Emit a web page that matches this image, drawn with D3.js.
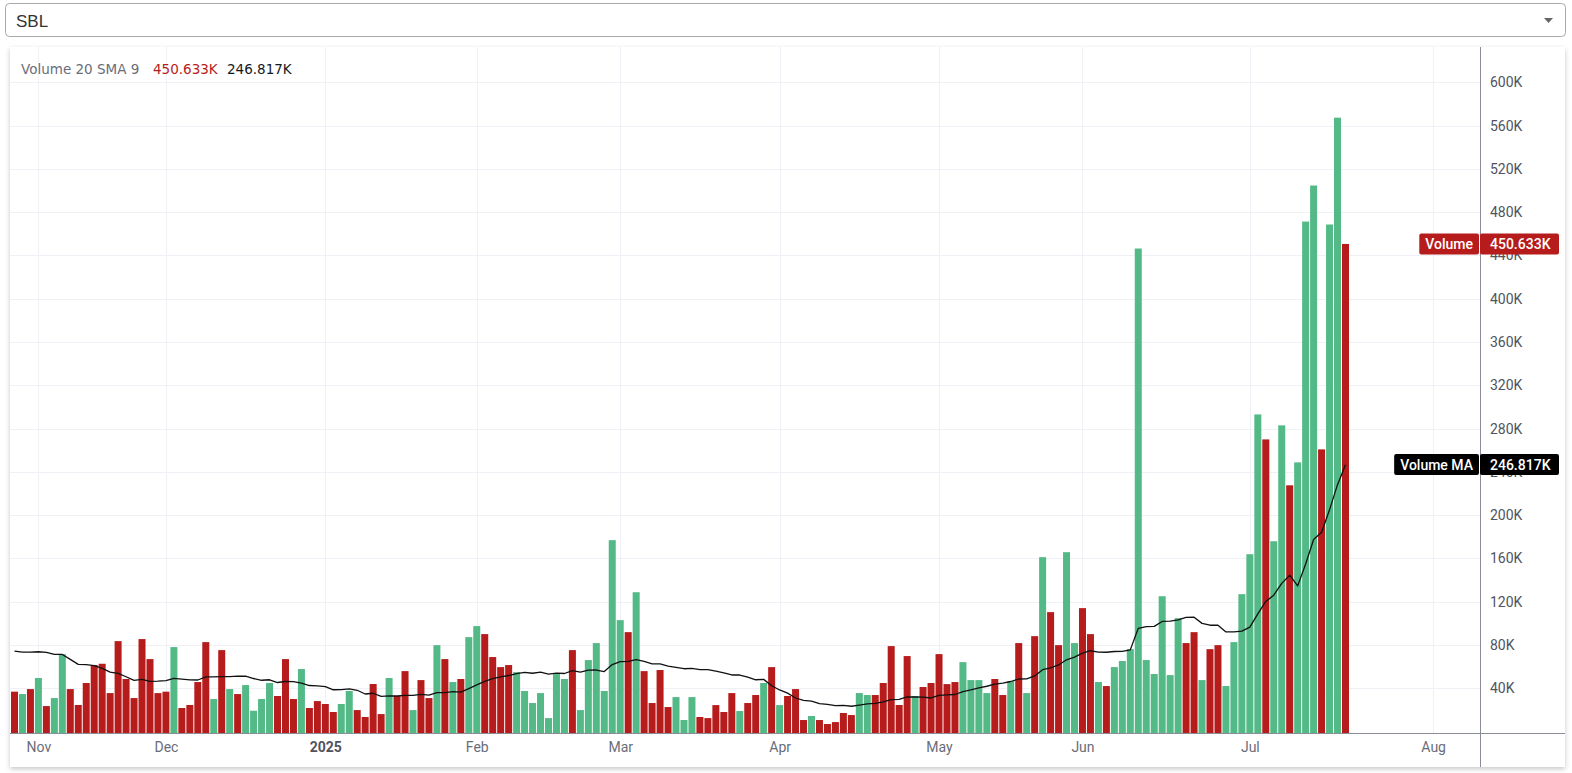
<!DOCTYPE html>
<html><head><meta charset="utf-8">
<script src="https://cdn.jsdelivr.net/npm/d3@7"></script>
<style>
html,body{margin:0;padding:0;background:#fff;overflow:hidden}
svg{display:block}
</style></head><body>
<svg id="c" width="1572" height="773"></svg>
<script>
// ---- data (volumes in thousands) ----
const volumeK = [
 36.9,34.7,39.3,49.5,23.6,31.0,71.6,39.3,24.6,44.9,61.5,62.7,35.6,83.6,48.6,31.0,85.5,67.0,35.6,36.9,78.1,21.8,24.6,45.8,82.7,30.1,75.3,39.3,34.7,43.0,19.3,30.1,44.9,
 32.9,67.0,30.1,57.8,21.8,28.2,25.5,18.1,25.5,37.5,19.9,13.5,44.0,16.2,49.5,32.9,55.9,19.9,47.6,31.0,79.9,67.0,45.8,48.6,87.3,97.5,90.1,68.9,59.6,61.5,55.0,37.5,26.4,
 35.6,12.5,53.2,48.6,75.3,19.9,66.1,81.8,37.5,176.9,103.0,91.9,128.8,55.9,26.4,56.9,22.7,31.9,10.7,31.9,13.5,12.5,24.5,18.1,35.6,19.0,26.4,33.8,44.9,59.6,24.5,32.9,
 39.3,10.7,14.4,10.7,7.0,8.8,17.2,15.3,35.6,33.8,33.8,44.9,79.0,24.6,69.8,32.9,41.2,44.9,71.6,43.9,45.8,64.2,47.6,47.6,
 35.6,48.6,33.8,46.7,81.8,35.6,88.2,161.2,110.4,79.9,165.8,81.8,114.1,90.1,45.8,42.1,59.6,65.2,76.2,446.4,66.1,53.2,125.1,52.2,
 104.8,81.8,91.9,47.6,76.2,79.9,42.1,82.7,127.0,163.9,293.1,270.0,175.9,283.0,227.6,248.8,471.3,504.6,260.8,468.6,567.3,450.633
];
// u = up (green), d = down (red)
const direction = (
 "dududuu"+"ddddddddddddd"+"u"+"dddd"+"udud"+"uuuu"+
 "ddd"+"u"+"dddd"+"uu"+"dddd"+"u"+"dd"+"u"+"dd"+"u"+"d"+"u"+"d"+"uu"+"dddd"+"uuu"+
 "uuuu"+"d"+"uuuuuu"+"d"+"u"+"dddd"+"uuu"+"ddddd"+"u"+"dd"+"u"+"d"+"u"+"d"+
 "dd"+"u"+"ddddd"+"uu"+"ddddd"+"u"+"ddddd"+"uuu"+
 "u"+"dd"+"u"+"d"+"u"+"d"+"u"+"dd"+"uu"+"dd"+"u"+"d"+"uuuuuuuu"+
 "u"+"dd"+"u"+"dd"+"uuuuu"+"d"+"uu"+"d"+"uuu"+"d"+"uu"+"d").split("");
// MA(20) values for the first 19 bars (their window starts before the visible data)
const maLeadK = [74.4,73.5,73.5,73.8,73.2,71.3,71.3,66.7,62.1,61.8,60.9,58.4,55.0,53.8,50.7,47.3,48.2,46.4,46.7];
const maLength = 20;
const maLastLabelK = 246.817;   // as printed in the reference legend / tag
const monthIdx = [3,19,39,58,76,96,116,134,155,178];
const monthLabels = ["Nov","Dec","2025","Feb","Mar","Apr","May","Jun","Jul","Aug"];
const yTicksK = [40,80,120,160,200,240,280,320,360,400,440,480,520,560,600];
const symbol = "SBL";
const legendTitle = "Volume 20 SMA 9";

// ---- derived ----
const maK = volumeK.map((v,i)=> i < maLength-1 ? maLeadK[i] : d3.mean(volumeK.slice(i-maLength+1,i+1)));
const lastVol = volumeK[volumeK.length-1];
const fmt = v => v.toFixed(3)+"K";

const panel = {x:10,y:47,w:1555,h:720};
const axisX = 1480, axisY = 733;
const UP="#53b987", DOWN="#b71c1c";
const FONT="Roboto, 'Noto Sans', sans-serif";
const LFONT="'DejaVu Sans', Verdana, sans-serif";

const svg = d3.select("#c");
const defs = svg.append("defs");
const f = defs.append("filter").attr("id","sh").attr("x","-2%").attr("y","-2%").attr("width","104%").attr("height","106%");
f.append("feDropShadow").attr("dx",0).attr("dy",2).attr("stdDeviation",2.5).attr("flood-color","#000").attr("flood-opacity",0.22);

// dropdown
svg.append("rect").attr("x",5.5).attr("y",3.5).attr("width",1560).attr("height",33).attr("rx",4)
  .attr("fill","#fff").attr("stroke","#a9a9a9");
svg.append("text").attr("x",16).attr("y",27).attr("font-family","'Liberation Sans', Arial, sans-serif")
  .attr("font-size",17).attr("fill","#333").text(symbol);
svg.append("path").attr("d","M1544,18 L1553,18 L1548.5,23 Z").attr("fill","#666");

// panel
svg.append("rect").attr("x",panel.x).attr("y",panel.y).attr("width",panel.w).attr("height",panel.h)
  .attr("fill","#fff").attr("filter","url(#sh)");

const x = d3.scaleLinear().domain([0,1]).range([14.5,14.5+7.97]);
const y = d3.scaleLinear().domain([0,600]).range([731.6,82.3]);

const g = svg.append("g");
// grid
g.selectAll("line.hg").data(yTicksK).join("line").attr("class","hg")
  .attr("x1",panel.x).attr("x2",axisX).attr("y1",d=>Math.round(y(d))+0.5).attr("y2",d=>Math.round(y(d))+0.5)
  .attr("stroke","#eff1f6").attr("stroke-width",1);
g.selectAll("line.vg").data(monthIdx).join("line").attr("class","vg")
  .attr("x1",d=>Math.round(x(d))+0.5).attr("x2",d=>Math.round(x(d))+0.5).attr("y1",panel.y).attr("y2",axisY)
  .attr("stroke","#eff1f6").attr("stroke-width",1);

// bars
const bw = 7;
g.selectAll("rect.bar").data(volumeK).join("rect").attr("class","bar")
  .attr("x",(d,i)=>x(i)-bw/2).attr("width",bw)
  .attr("y",d=>y(d)).attr("height",d=>axisY-y(d))
  .attr("fill",(d,i)=>direction[i]==="u"?UP:DOWN);

// MA line
g.append("path").datum(maK).attr("fill","none").attr("stroke","#111").attr("stroke-width",1.3)
  .attr("stroke-linejoin","round")
  .attr("d",d3.line().x((d,i)=>x(i)).y(d=>y(d)));

// axes lines
svg.append("line").attr("x1",panel.x).attr("x2",panel.x+panel.w).attr("y1",axisY+0.5).attr("y2",axisY+0.5).attr("stroke","#8a8d96");
svg.append("line").attr("x1",axisX+0.5).attr("x2",axisX+0.5).attr("y1",panel.y).attr("y2",panel.y+panel.h).attr("stroke","#8a8d96");

// y axis labels
const yAxis = d3.axisRight(y).tickValues(yTicksK).tickFormat(d=>d+"K").tickSize(0).tickPadding(10);
const ya = svg.append("g").attr("transform",`translate(${axisX},0)`).call(yAxis);
ya.select(".domain").remove();
ya.selectAll("text").attr("font-family",FONT).attr("font-size",14).attr("fill","#50535e");

// x axis labels
const xAxis = d3.axisBottom(x).tickValues(monthIdx).tickFormat((d,i)=>monthLabels[i]).tickSize(0).tickPadding(9);
const xa = svg.append("g").attr("transform",`translate(0,${axisY})`).call(xAxis);
xa.select(".domain").remove();
xa.selectAll("text").attr("font-family",FONT).attr("font-size",14)
  .attr("font-weight",(d,i)=>monthLabels[i]==="2025"?"bold":"normal")
  .attr("fill",(d,i)=>monthLabels[i]==="2025"?"#50535e":"#6a6d78");

// legend
const lg = svg.append("text").attr("y",74).attr("font-family",LFONT).attr("font-size",13.5);
lg.append("tspan").attr("x",21).attr("fill","#6a6d78").text(legendTitle);
lg.append("tspan").attr("x",153).attr("fill",DOWN).text(fmt(lastVol));
lg.append("tspan").attr("x",227).attr("fill","#131722").text(fmt(maLastLabelK));

// value tags on the price scale
function tag(val, name, color){
  const cy = y(val);
  const h = 21;
  const grp = svg.append("g");
  const t = grp.append("text").attr("font-family",FONT).attr("font-size",14).attr("font-weight",500).attr("fill","#fff")
    .attr("x",1473).attr("y",cy+5).attr("text-anchor","end").text(name);
  const tw = t.node().getComputedTextLength();
  grp.insert("rect","text").attr("x",1473-tw-6).attr("y",cy-h/2).attr("width",tw+12).attr("height",h).attr("rx",2).attr("fill",color);
  grp.insert("rect","text").attr("x",1480).attr("y",cy-h/2).attr("width",79).attr("height",h).attr("rx",2).attr("fill",color);
  grp.append("text").attr("font-family",FONT).attr("font-size",14).attr("font-weight",500).attr("fill","#fff")
    .attr("x",1490).attr("y",cy+5).text(fmt(val));
}
tag(lastVol,"Volume",DOWN);
tag(maLastLabelK,"Volume MA","#000");
</script>
</body></html>
